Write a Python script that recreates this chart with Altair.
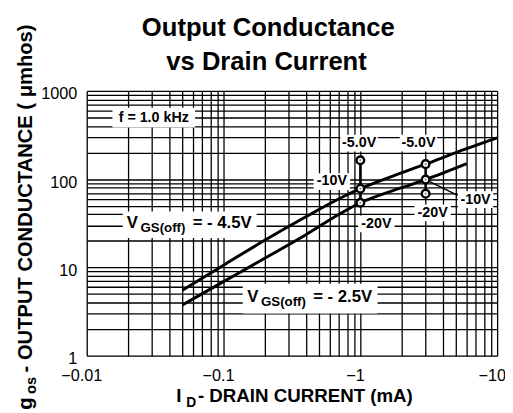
import altair as alt
import pandas as pd

FONT = "Liberation Sans, Arial, Helvetica, sans-serif"

# ---------------- data ----------------
TITLE_LINES = ["Output Conductance", "vs Drain Current"]
X_TICKS = [0.01, 0.1, 1, 10]
X_TICK_LABELS = ["\u22120.01", "\u22120.1", "\u22121", "\u221210"]
Y_TICKS = [1, 10, 100, 1000]
Y_TICK_LABELS = ["1", "10", "100", "1000"]

# V_GS(off) = -4.5 V curve  (|I_D| mA, g_os umhos)
UPPER_I = [0.05, 0.1, 0.2, 0.4, 0.7, 1.0, 2.0, 3.0, 5.0, 10.0]
UPPER_G = [5.5, 10.6, 20.3, 37.5, 60, 78, 118, 148, 200, 293]
# V_GS(off) = -2.5 V curve
LOWER_I = [0.05, 0.1, 0.2, 0.4, 0.7, 1.0, 2.0, 3.0, 6.0]
LOWER_G = [3.75, 6.9, 12.7, 23.5, 40, 54, 80, 99, 150]

# V_DS markers
MARK_I = [1.0, 1.0, 1.0, 3.0, 3.0, 3.0]
MARK_G = [164, 78, 54, 148, 99, 68.5]
CONN_I = [1.0, 3.0]
CONN_TOP = [164, 148]
CONN_BOT = [54, 68.5]
LEADER_I = [3.0, 5.15]
LEADER_G = [99, 65.6]

ANN_TEXT = ["f = 1.0 kHz", "-5.0V", "-5.0V", "-10V", "-10V", "-20V", "-20V"]
ANN_I = [0.0309, 0.98, 2.66, 0.619, 6.95, 1.31, 3.38]
ANN_G = [499, 256, 256, 94, 58.5, 31.2, 41.4]

VGS_MAIN = "V"
VGS_SUB = "GS(off)"
VGS_VALUE = ["= - 4.5V", "= - 2.5V"]
VGS_I = [0.0566, 0.43]
VGS_G = [30.4, 4.43]

X_TITLE = ["I", "D", "- DRAIN CURRENT (mA)"]
Y_TITLE = ["g", "os", "- OUTPUT CONDUCTANCE ( \u03bcmhos)"]

# ---------------- styles ----------------
ANN_BOX_W = [84, 38, 38, 37, 36, 37, 37]
ANN_BOX_H = [20, 17, 17, 17, 17, 17, 17]
VGS_BOX_W = [136, 137]
VGS_BOX_H = [27, 30]

W, H = 417, 269

x_grid = sorted({round(k * 10 ** e, 10) for e in (-2, -1, 0) for k in range(1, 10)} | {10})
y_grid = sorted({round(k * 10 ** e, 10) for e in (0, 1, 2) for k in range(1, 10)} | {1000})

x_label_expr = " : ".join(
    f"datum.value == {v} ? '{t}'" for v, t in zip(X_TICKS, X_TICK_LABELS)
) + " : ''"
y_label_expr = " : ".join(
    f"datum.value == {v} ? '{t}'" for v, t in zip(Y_TICKS, Y_TICK_LABELS)
) + " : ''"

x_scale = alt.Scale(type="log", domain=[0.01, 10], nice=False)
y_scale = alt.Scale(type="log", domain=[1, 1000], nice=False)

x_axis = alt.Axis(values=x_grid, grid=True, ticks=False, domain=False, title=None,
                  labelExpr=x_label_expr, labelFont=FONT, labelFontSize=16.5,
                  labelColor="black", labelPadding=12, labelOffset=-5.5,
                  labelFlush=False, labelOverlap=False, labelBound=False,
                  gridColor="black", gridWidth=1.3, gridOpacity=1)
y_axis = alt.Axis(values=y_grid, grid=True, ticks=False, domain=False, title=None,
                  labelExpr=y_label_expr, labelFont=FONT, labelFontSize=16.5,
                  labelColor="black", labelPadding=10, labelOffset=3,
                  labelFlush=False, labelOverlap=False, labelBound=False,
                  labelBaseline="middle",
                  gridColor="black", gridWidth=1.3, gridOpacity=1)


def X(field="i"):
    return alt.X(f"{field}:Q", scale=x_scale, axis=x_axis)


def Y(field="g"):
    return alt.Y(f"{field}:Q", scale=y_scale, axis=y_axis)


def box_shape(w, h):
    r = h / w
    return f"M-1,{-r:.4f}L1,{-r:.4f}L1,{r:.4f}L-1,{r:.4f}Z"


curves = pd.DataFrame({
    "i": UPPER_I + LOWER_I,
    "g": UPPER_G + LOWER_G,
    "curve": ["upper"] * len(UPPER_I) + ["lower"] * len(LOWER_I),
})

boxes = pd.DataFrame({
    "i": ANN_I + VGS_I,
    "g": ANN_G + VGS_G,
    "shape": [box_shape(w, h) for w, h in zip(ANN_BOX_W + VGS_BOX_W, ANN_BOX_H + VGS_BOX_H)],
    "size": [w * w for w in ANN_BOX_W + VGS_BOX_W],
})

box_layer = alt.Chart(boxes).mark_point(
    filled=True, fill="white", fillOpacity=1, opacity=1, strokeWidth=0
).encode(
    x=X(), y=Y(),
    shape=alt.Shape("shape:N", scale=None),
    size=alt.Size("size:Q", scale=None),
)

curve_layer = alt.Chart(curves).mark_line(
    color="black", strokeWidth=3, interpolate="monotone"
).encode(x=X(), y=Y(), detail="curve:N")

conn = pd.DataFrame({"i": CONN_I, "g": CONN_TOP, "g2": CONN_BOT})
conn_layer = alt.Chart(conn).mark_rule(color="black", strokeWidth=2.5).encode(
    x=X(), y=Y(), y2="g2:Q"
)

leader = pd.DataFrame({"i": LEADER_I, "g": LEADER_G})
leader_layer = alt.Chart(leader).mark_line(color="black", strokeWidth=1.5).encode(
    x=X(), y=Y()
)

marks = pd.DataFrame({"i": MARK_I, "g": MARK_G})
circle_layer = alt.Chart(marks).mark_point(
    shape="circle", filled=False, fill="white", fillOpacity=1, stroke="black",
    strokeWidth=2.5, size=60, opacity=1
).encode(x=X(), y=Y())
dot_layer = alt.Chart(marks).mark_point(
    shape="circle", filled=True, color="#8a8a8a", size=5, opacity=1
).encode(x=X(), y=Y())

ann = pd.DataFrame({"i": ANN_I, "g": ANN_G, "t": ANN_TEXT})
ann_layer = alt.Chart(ann).mark_text(
    font=FONT, fontWeight="bold", fontSize=14.5, color="black",
    align="center", baseline="middle"
).encode(x=X(), y=Y(), text="t:N")

vgs = pd.DataFrame({"i": VGS_I, "g": VGS_G, "main": [VGS_MAIN] * 2,
                    "sub": [VGS_SUB] * 2, "val": VGS_VALUE})
vgs_v = alt.Chart(vgs).mark_text(
    font=FONT, fontWeight="bold", fontSize=17, color="black",
    align="left", baseline="alphabetic", dx=-64, dy=3
).encode(x=X(), y=Y(), text="main:N")
vgs_s = alt.Chart(vgs).mark_text(
    font=FONT, fontWeight="bold", fontSize=13.5, color="black",
    align="left", baseline="alphabetic", dx=-50, dy=7
).encode(x=X(), y=Y(), text="sub:N")
vgs_r = alt.Chart(vgs).mark_text(
    font=FONT, fontWeight="bold", fontSize=17, color="black",
    align="left", baseline="alphabetic", dx=3, dy=3
).encode(x=X(), y=Y(), text="val:N")


def static_text(txt, px, py, size, align="left", angle=0, bold=True):
    kw = dict(font=FONT, fontSize=size, color="black", align=align,
              baseline="alphabetic", fontWeight="bold" if bold else "normal")
    if angle:
        kw["angle"] = angle
    return alt.Chart(pd.DataFrame({"t": [txt]})).mark_text(**kw).encode(
        text="t:N", x=alt.value(px), y=alt.value(py)
    )


title_layers = [
    static_text(TITLE_LINES[0], 184.5, -55.5, 26, align="center"),
    static_text(TITLE_LINES[1], 182.7, -21, 26, align="center"),
]
xtitle_layers = [
    static_text(X_TITLE[0], 91, 316, 19),
    static_text(X_TITLE[1], 101, 321, 14),
    static_text(X_TITLE[2], 113, 316, 19),
]
ytitle_layers = [
    static_text(Y_TITLE[0], -56, 324, 20.5, angle=270),
    static_text(Y_TITLE[1], -52, 308, 15, angle=270),
    static_text(Y_TITLE[2], -56, 286, 20.5, angle=270),
]

chart = alt.layer(
    box_layer, curve_layer, conn_layer, leader_layer, circle_layer, dot_layer,
    ann_layer, vgs_v, vgs_s, vgs_r,
    *title_layers, *xtitle_layers, *ytitle_layers,
).properties(
    width=W, height=H,
    autosize=alt.AutoSizeParams(type="none"),
    padding={"left": 80, "top": 81, "right": 8, "bottom": 55},
).configure_view(
    stroke="black", strokeWidth=2.5
).configure(background="white")

chart.save("out.html", embed_options={"renderer": "svg", "actions": False})
